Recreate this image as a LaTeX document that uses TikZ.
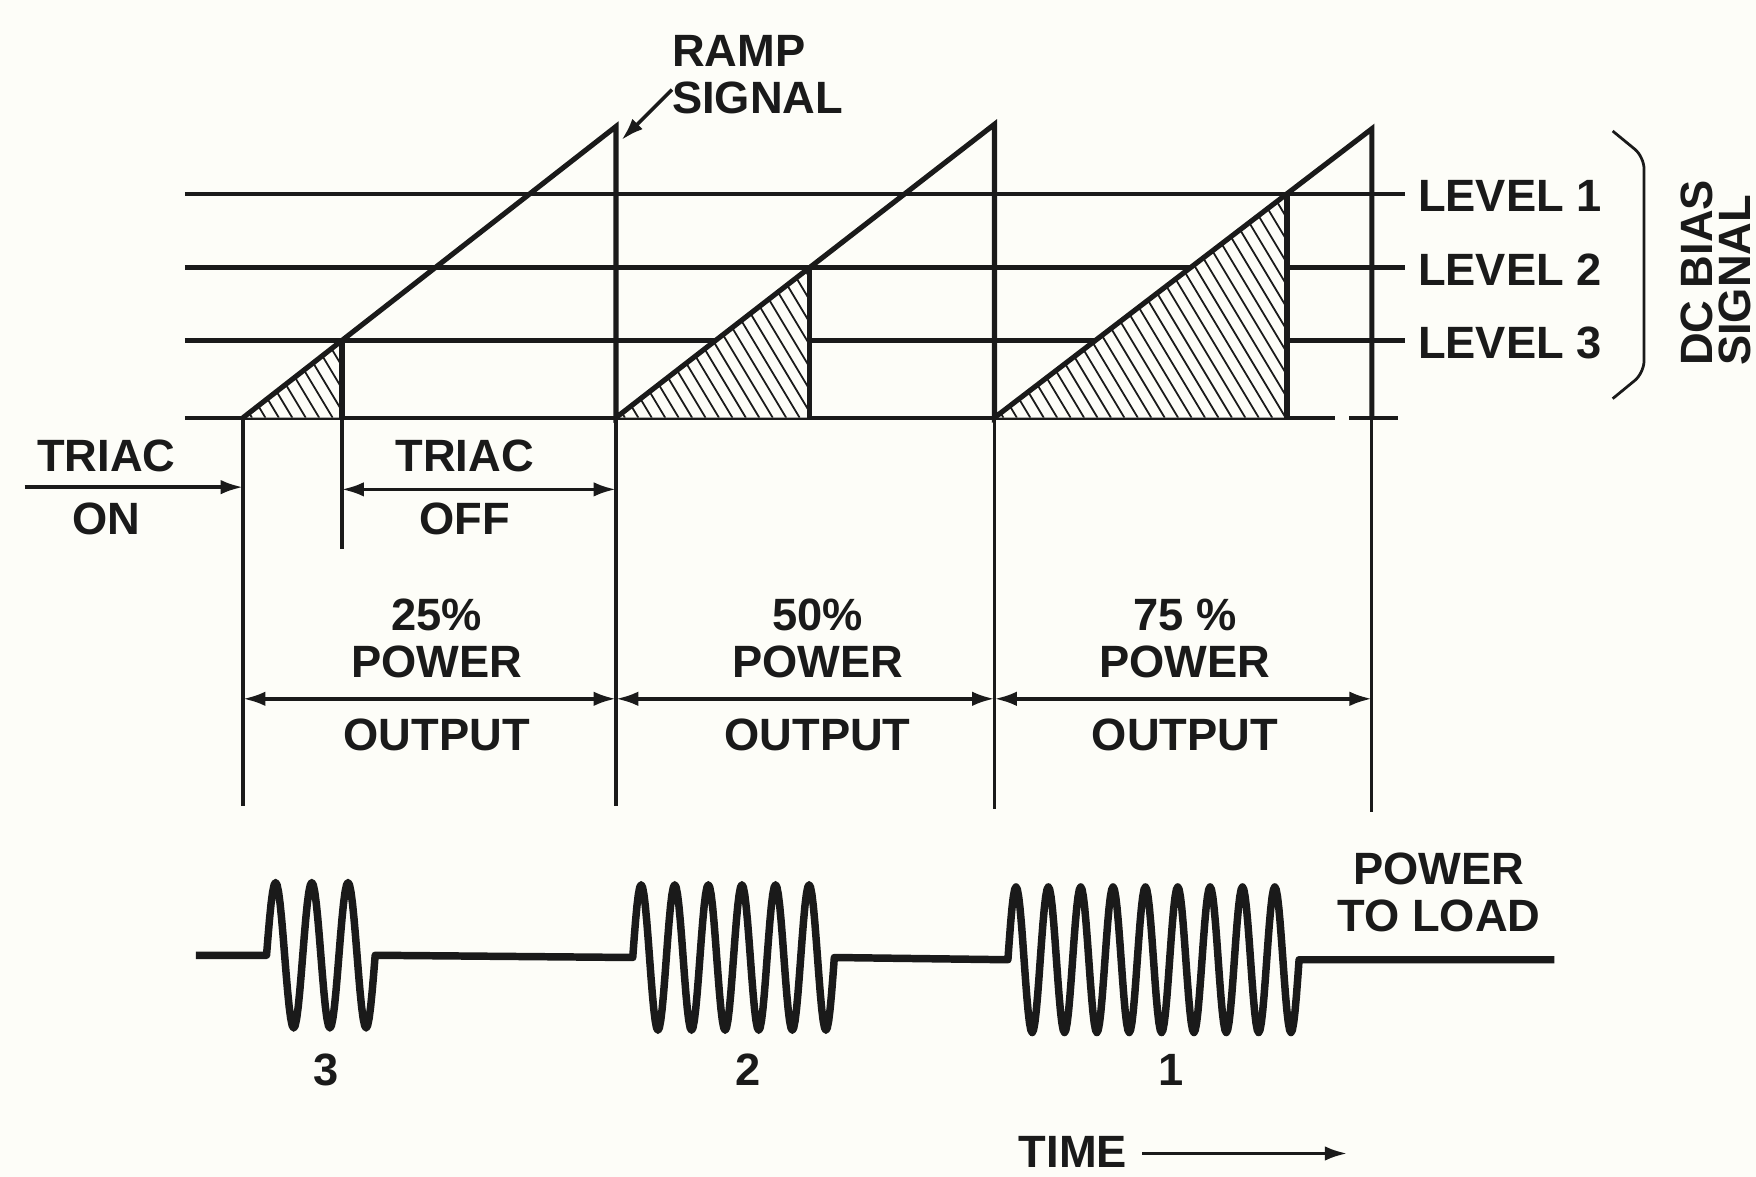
\documentclass[tikz,border=0pt]{standalone}
\usepackage{fontspec}
\setmainfont{Liberation Sans}
\usepackage{tikz}
\usetikzlibrary{arrows.meta,calc}
\definecolor{ink}{HTML}{1A1A1A}
\definecolor{paper}{HTML}{FDFDF8}
\tikzset{
  lbl/.style={font=\fontsize{11.5}{12}\selectfont\bfseries, text=ink,
    inner sep=1pt, align=center},
  levelline/.style={draw=ink, line width=1.1pt},
  rampline/.style={draw=ink, line width=1.3pt, line join=miter},
  tickline/.style={draw=ink, line width=0.8pt},
  hatchline/.style={draw=ink, line width=0.45pt},
  dimarrow/.style={{Latex[length=2mm,width=1.3mm]}-{Latex[length=2mm,width=1.3mm]},
    draw=ink, line width=0.9pt},
  onearrow/.style={-{Latex[length=2mm,width=1.3mm]}, draw=ink, line width=0.9pt},
  waveline/.style={draw=ink, line width=1.9pt, line join=round},
}

\begin{document}
\begin{tikzpicture}[x=0.1mm, y=-0.1mm]
  \useasboundingbox[fill=paper] (0,0) rectangle (1568,1051);

  % dc bias levels and base line
  \foreach \n/\y in {1/173,2/239,3/304}
    \draw[levelline] (165,\y) -- (1255,\y);
  \draw[levelline] (165,373) -- (1192,373);
  \draw[levelline] (1205,373) -- (1248,373);

  % ramp corners and firing points
  \coordinate (r1) at (217,373);  \coordinate (p1) at (550,113);
  \coordinate (r2) at (550,373);  \coordinate (p2) at (888,111);
  \coordinate (r3) at (888,373);  \coordinate (p3) at (1225,115);
  \coordinate (c1) at ($(r1)!{69/260}!(p1)$);
  \coordinate (c2) at ($(r2)!{134/262}!(p2)$);
  \coordinate (c3) at ($(r3)!{200/258}!(p3)$);

  % hatched conduction areas
  \foreach \a/\c in {r1/c1,r2/c2,r3/c3} {
    \fill[paper] (\a) -- (\c) -- (\c |- \a) -- cycle;
    \begin{scope}
      \clip (\a) -- (\c) -- (\c |- \a) -- cycle;
      \foreach \x in {-130,-118,...,290}
        \draw[hatchline] ($(\a)+(\x,-210)$) -- ++(126,210);
    \end{scope}
    \draw[rampline] (\c) -- (\c |- \a);
  }

  % sawtooth
  \draw[rampline] (r1) -- (p1) -- (r2) -- (p2) -- (r3) -- (p3) -- (p3 |- r3);
  \foreach \x/\e in {217/720,550/720,888/722,1225/725}
    \draw[tickline] (\x,373) -- (\x,\e);
  \draw[tickline] (c1 |- r1) -- ++(0,117);

  % ramp label
  \node[lbl, anchor=west, align=left] (ramp) at (596,67) {RAMP\\SIGNAL};
  \coordinate (lead) at (600,80);
  \coordinate (tip) at (555,125);
  \draw[onearrow] (lead) -- (tip);

  \foreach \n/\y in {1/173,2/239,3/304}
    \node[lbl, anchor=west] (lev\n) at (1262,\y+2) {LEVEL \n};
  \draw[ink, line width=0.7pt, rounded corners=3pt]
    (1440,117) -- (1468,140) -- (1468,333) -- (1440,356);
  \node[lbl, rotate=90, anchor=west] (dcb) at (1515,331) {DC BIAS};
  \node[lbl, rotate=90, anchor=west] (sig) at (1549,331) {SIGNAL};

  % triac on / off
  \node[lbl] (on1) at (95,407) {TRIAC};
  \node[lbl] (on2) at (95,463) {ON};
  \coordinate (onL) at (22,435);
  \coordinate (onR) at (217,435);
  \draw[onearrow] (onL) -- (onR);
  \node[lbl] (off1) at (415,407) {TRIAC};
  \node[lbl] (off2) at (415,463) {OFF};
  \coordinate (offL) at (305,437);
  \coordinate (offR) at (550,437);
  \draw[dimarrow] (offL) -- (offR);

  % power output spans
  \foreach \i/\x/\p/\a/\b in {3/390/25\%/217/550, 2/730/50\%/550/888, 1/1058/75 \%/888/1225} {
    \node[lbl] (pw\i) at (\x,570) {\p\\POWER};
    \node[lbl] (out\i) at (\x,656) {OUTPUT};
    \coordinate (sL\i) at (\a,624);
    \coordinate (sR\i) at (\b,624);
    \draw[dimarrow] (sL\i) -- (sR\i);
  }

  % load power bursts
  \draw[waveline] (175,853) -- (238,853)
    -- plot[domain=0:1080, samples=73] ({238+\x/1080*97}, {853-65*sin(\x)})
    -- (565,855)
    -- plot[domain=0:2160, samples=145] ({565+\x/12}, {855-65*sin(\x)})
    -- (900,857)
    -- plot[domain=0:3240, samples=217] ({900+\x/3240*260}, {857-65*sin(\x)})
    -- (1388,857);
  \node[lbl] (n3) at (291,955) {3};
  \node[lbl] (n2) at (668,955) {2};
  \node[lbl] (n1) at (1046,955) {1};
  \node[lbl] (load) at (1285,797) {POWER\\TO LOAD};

  % time axis
  \node[lbl] (time) at (958,1029) {TIME};
  \coordinate (tA) at (1020,1030);
  \coordinate (tB) at (1203,1030);
  \draw[onearrow] (tA) -- (tB);
\end{tikzpicture}
\end{document}
